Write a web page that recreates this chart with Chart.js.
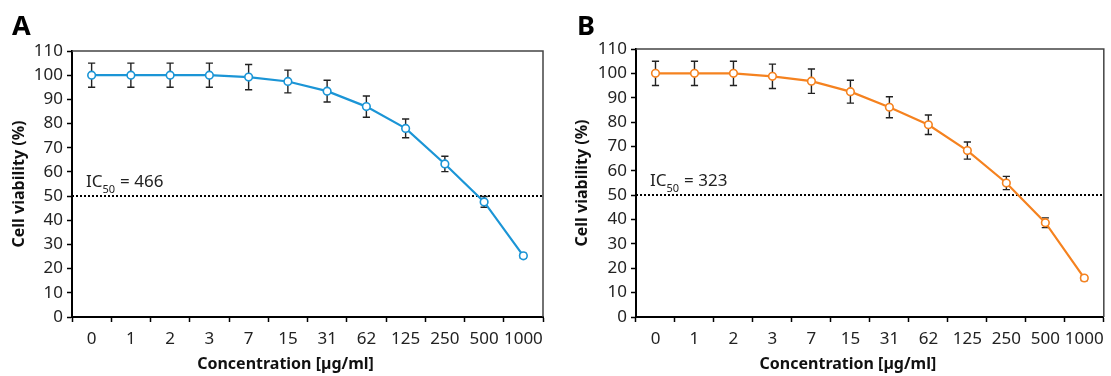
<!DOCTYPE html>
<html>
<head>
<meta charset="utf-8">
<script src="https://cdn.jsdelivr.net/npm/chart.js@4.4.0/dist/chart.umd.min.js"></script>
<style>
	body {margin: 0; background: #fff;}
	#wrap {position: relative; width: 1111px; height: 376px;}
	.panel {position: absolute; top: 0; height: 376px;}
	#panelA {left: 0; width: 555px;}
	#panelB {left: 555px; width: 556px;}
</style>
</head>
<body>
<div id="wrap">
	<div class="panel" id="panelA"><canvas id="chartA"></canvas></div>
	<div class="panel" id="panelB"><canvas id="chartB"></canvas></div>
</div>
<script>
const concentrations = ['0', '1', '2', '3', '7', '15', '31', '62', '125', '250', '500', '1000'];
const viabilityA = [100, 100, 100, 100, 99.2, 97.4, 93.4, 87, 78, 63.3, 47.6, 25.3];
const errorA = [5, 5, 5, 5, 5.2, 4.7, 4.5, 4.4, 3.9, 3.2, 2.2, 1];
const viabilityB = [100, 100, 100, 98.8, 96.8, 92.5, 86.1, 78.9, 68.3, 55, 38.7, 16];
const errorB = [5, 5, 5, 5, 5, 4.7, 4.3, 4, 3.5, 2.7, 2, 1];
const ic50A = '466';
const ic50B = '323';
const cutoff = 50;
const yMin = 0, yMax = 110, yStep = 10;

Chart.defaults.font.family = "'Noto Sans', sans-serif";
Chart.defaults.color = '#222';

//error bars + dotted 50% line, drawn under the points
const underlay = {
	id: 'underlay',
	beforeDatasetsDraw(chart, args, opts) {
		const {ctx, chartArea, scales: {x, y}} = chart;
		ctx.save();
		ctx.strokeStyle = '#000';
		ctx.lineWidth = 2;
		ctx.setLineDash([2, 2]);
		let yc = Math.round(y.getPixelForValue(cutoff));
		ctx.beginPath();
		ctx.moveTo(chartArea.left, yc);
		ctx.lineTo(chartArea.right, yc);
		ctx.stroke();
		ctx.setLineDash([]);

		ctx.strokeStyle = '#222';
		ctx.lineWidth = 1.4;
		opts.values.map((v, i) => {
			let px = x.getPixelForValue(i);
			let top = y.getPixelForValue(v + opts.errors[i]);
			let bot = y.getPixelForValue(v - opts.errors[i]);
			ctx.beginPath();
			ctx.moveTo(px, top); ctx.lineTo(px, bot);
			ctx.moveTo(px - 3.6, top); ctx.lineTo(px + 3.6, top);
			ctx.moveTo(px - 3.6, bot); ctx.lineTo(px + 3.6, bot);
			ctx.stroke();
		});
		ctx.restore();
	},
	afterDraw(chart, args, opts) {
		const {ctx, chartArea, scales: {y}} = chart;
		ctx.save();
		//top/right frame
		ctx.strokeStyle = '#444';
		ctx.lineWidth = 1.5;
		ctx.beginPath();
		ctx.moveTo(chartArea.left, chartArea.top);
		ctx.lineTo(chartArea.right, chartArea.top);
		ctx.lineTo(chartArea.right, chartArea.bottom);
		ctx.stroke();

		//panel letter
		ctx.fillStyle = '#000';
		ctx.font = "bold 27px 'Noto Sans', sans-serif";
		ctx.textBaseline = 'alphabetic';
		ctx.fillText(opts.letter, opts.letterX, 35);

		//IC50 label
		let bx = chartArea.left + 14;
		let by = y.getPixelForValue(cutoff) - 9;
		ctx.fillStyle = '#222';
		ctx.font = "17px 'Noto Sans', sans-serif";
		ctx.fillText('IC', bx, by);
		bx += ctx.measureText('IC').width;
		ctx.font = "11px 'Noto Sans', sans-serif";
		ctx.fillText('50', bx, by + 6);
		bx += ctx.measureText('50').width + 5;
		ctx.font = "17px 'Noto Sans', sans-serif";
		ctx.fillText('= ' + opts.ic50, bx, by);

		//x title (sits a bit left of the plot centre)
		ctx.fillStyle = '#111';
		ctx.font = "bold 16px 'Noto Sans', sans-serif";
		ctx.textAlign = 'center';
		ctx.textBaseline = 'middle';
		ctx.fillText('Concentration [µg/ml]', (chartArea.left + chartArea.right) / 2 - 22, 364);
		ctx.restore();
	}
};

const makeChart = (id, values, errors, color, p) => new Chart(document.getElementById(id), {
	type: 'line',
	data: {
		labels: concentrations,
		datasets: [{
			data: values,
			borderColor: color,
			borderWidth: 2.2,
			pointRadius: 3.8,
			pointBorderWidth: 1.6,
			pointBackgroundColor: '#fff',
			pointBorderColor: color,
			tension: 0
		}]
	},
	options: {
		responsive: true,
		maintainAspectRatio: false,
		animation: false,
		layout: {padding: {top: p.top, right: p.right, left: 0, bottom: 0}},
		plugins: {
			legend: {display: false},
			tooltip: {enabled: false},
			underlay: {values: values, errors: errors, letter: p.letter, letterX: p.letterX, ic50: p.ic50}
		},
		scales: {
			x: {
				type: 'category',
				offset: true,
				grid: {offset: true, drawOnChartArea: false, tickLength: 5, tickColor: '#000', tickWidth: 1.5},
				border: {color: '#000', width: 2},
				ticks: {autoSkip: false, maxRotation: 0, padding: 7, color: '#222', font: {size: 17}},
				afterFit: s => { s.height = 59; }
			},
			y: {
				min: yMin,
				max: yMax,
				grid: {drawOnChartArea: false, tickLength: 5, tickColor: '#000', tickWidth: 1.5},
				border: {color: '#000', width: 2},
				ticks: {stepSize: yStep, padding: 4, color: '#222', font: {size: 17}},
				title: {display: true, text: 'Cell viability (%)', color: '#111', font: {size: 16, weight: 'bold'}, padding: {top: p.titlePad, bottom: 0}},
				afterFit: s => { s.width = p.yWidth; }
			}
		}
	},
	plugins: [underlay]
});

makeChart('chartA', viabilityA, errorA, '#1b95d6',
	{top: 51, right: 12, yWidth: 72, titlePad: 10, letter: 'A', letterX: 12, ic50: ic50A});
makeChart('chartB', viabilityB, errorB, '#f5821f',
	{top: 49, right: 4, yWidth: 81, titlePad: 18, letter: 'B', letterX: 22, ic50: ic50B});
</script>
</body>
</html>
